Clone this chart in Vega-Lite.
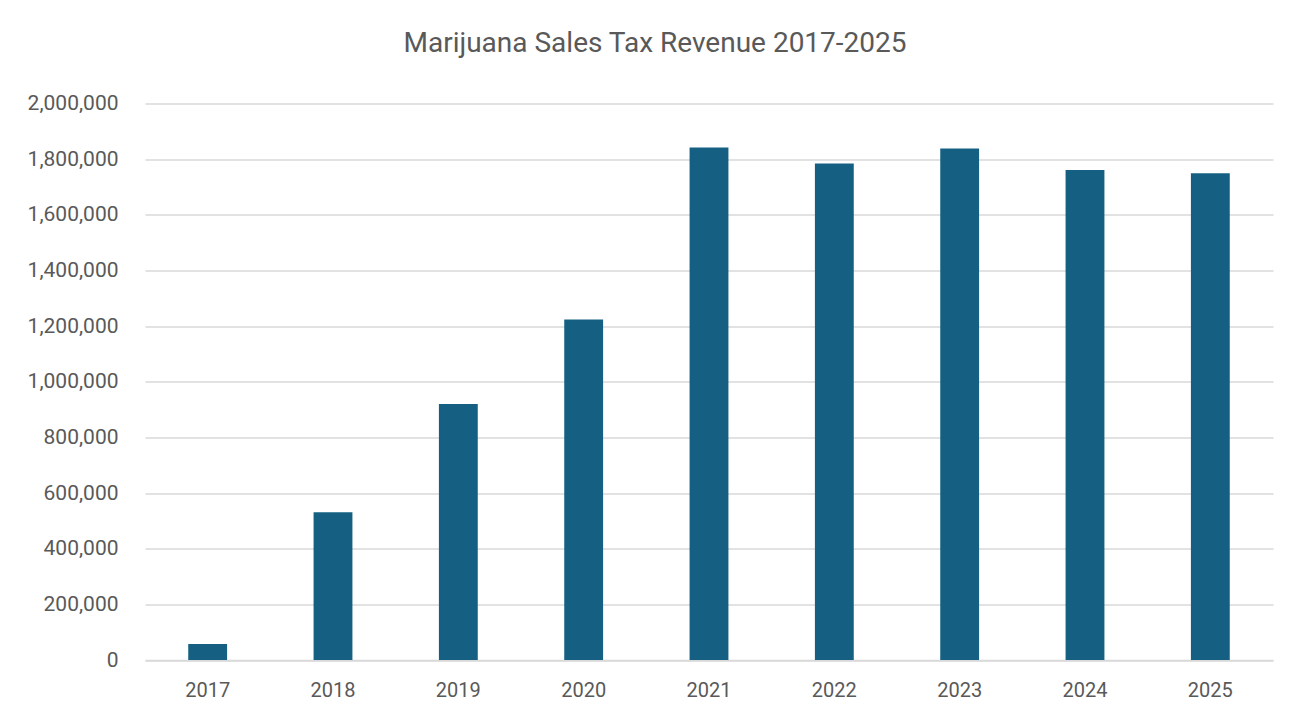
{
  "$schema": "https://vega.github.io/schema/vega-lite/v6.json",
  "autosize": {"type": "none"},
  "padding": {"left": 145, "top": 103.5, "right": 29, "bottom": 55},
  "width": 1128,
  "height": 556.5,
  "background": "white",
  "title": {
    "text": "Marijuana Sales Tax Revenue 2017-2025",
    "font": "Roboto",
    "fontSize": 28,
    "fontWeight": "normal",
    "color": "#595959",
    "anchor": "middle",
    "baseline": "alphabetic",
    "offset": 13,
    "dx": -54
  },
  "data": {
    "values": [
      {"year": "2017", "revenue": 57500},
      {"year": "2018", "revenue": 531000},
      {"year": "2019", "revenue": 920000},
      {"year": "2020", "revenue": 1224000},
      {"year": "2021", "revenue": 1842000},
      {"year": "2022", "revenue": 1784000},
      {"year": "2023", "revenue": 1838000},
      {"year": "2024", "revenue": 1761000},
      {"year": "2025", "revenue": 1749000}
    ]
  },
  "mark": {"type": "bar", "color": "#156082"},
  "encoding": {
    "x": {
      "field": "year",
      "type": "nominal",
      "sort": null,
      "scale": {"paddingInner": 0.69, "paddingOuter": 0.345},
      "axis": {
        "title": null,
        "labelAngle": 0,
        "labelFont": "Roboto",
        "labelFontSize": 20,
        "labelColor": "#595959",
        "labelPadding": 20,
        "ticks": false,
        "domainColor": "#d9d9d9",
        "domainWidth": 1.5
      }
    },
    "y": {
      "field": "revenue",
      "type": "quantitative",
      "scale": {"domain": [0, 2000000], "nice": false},
      "axis": {
        "title": null,
        "values": [0, 200000, 400000, 600000, 800000, 1000000, 1200000, 1400000, 1600000, 1800000, 2000000],
        "format": ",d",
        "labelFont": "Roboto",
        "labelFontSize": 21,
        "labelColor": "#595959",
        "labelPadding": 27,
        "ticks": false,
        "domain": false,
        "gridColor": "#d9d9d9",
        "gridWidth": 1.5
      }
    }
  },
  "config": {"view": {"stroke": null}}
}
